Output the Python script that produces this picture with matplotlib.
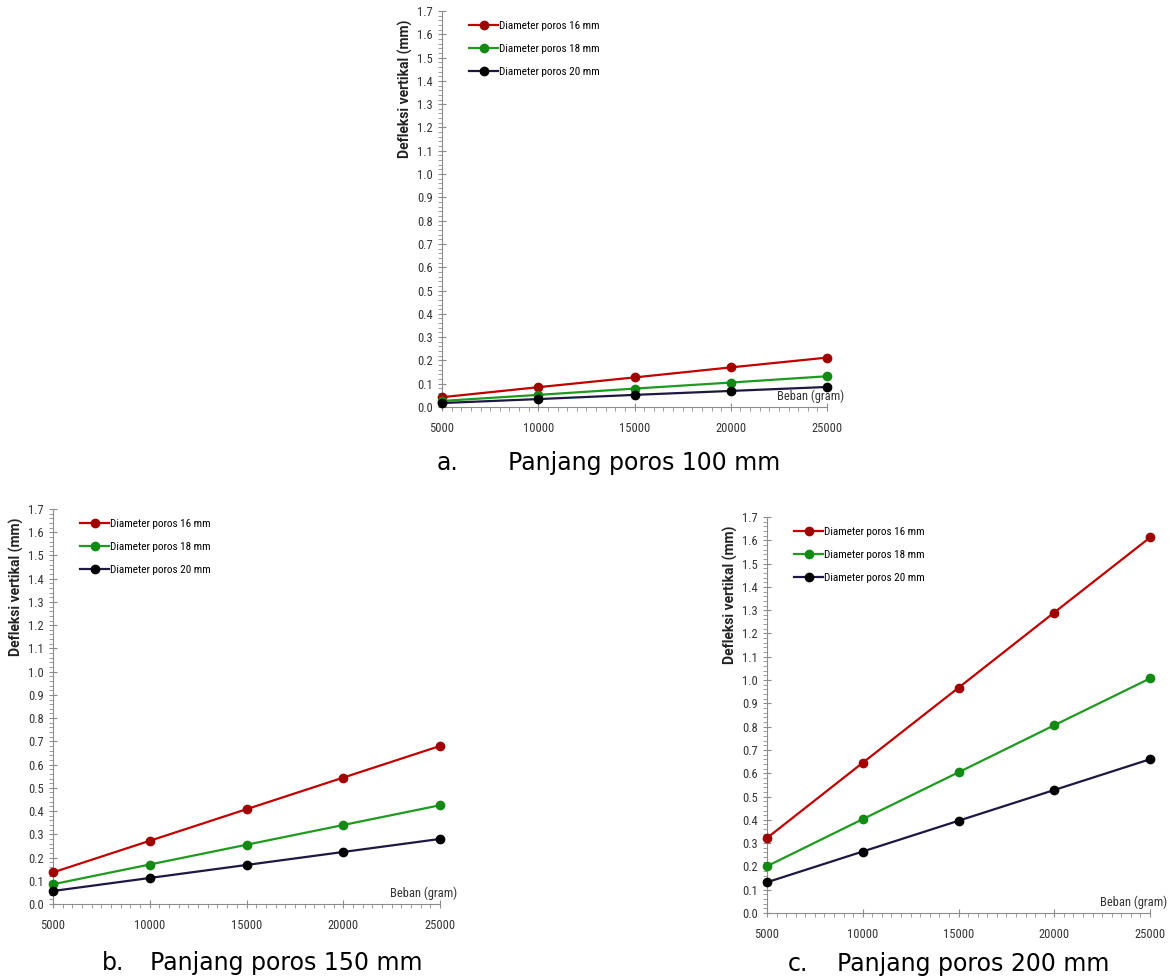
import numpy as np
import matplotlib.pyplot as plt
from matplotlib.ticker import MultipleLocator

beban = [5000, 10000, 15000, 20000, 25000]
labels = ['Diameter poros 16 mm', 'Diameter poros 18 mm', 'Diameter poros 20 mm']

# defleksi (mm) per panjang poros
d100_16 = [0.042, 0.085, 0.127, 0.170, 0.212]
d100_18 = [0.026, 0.052, 0.079, 0.105, 0.132]
d100_20 = [0.017, 0.034, 0.052, 0.069, 0.086]

d150_16 = [0.136, 0.272, 0.408, 0.544, 0.680]
d150_18 = [0.085, 0.170, 0.255, 0.340, 0.425]
d150_20 = [0.056, 0.112, 0.168, 0.224, 0.280]

d200_16 = [0.322, 0.645, 0.967, 1.290, 1.612]
d200_18 = [0.201, 0.403, 0.604, 0.806, 1.007]
d200_20 = [0.132, 0.264, 0.396, 0.528, 0.660]

letters = ['a.', 'b.', 'c.']
captions = ['Panjang poros 100 mm', 'Panjang poros 150 mm', 'Panjang poros 200 mm']

line_cols = ['#C00000', '#1E9A1E', '#1C1840']
mark_cols = ['#A00000', '#138A13', '#000000']

small = ['Liberation Sans Narrow', 'DejaVu Sans Condensed', 'Roboto Condensed',
         'Roboto', 'DejaVu Sans']
lab_font = ['Roboto', 'DejaVu Sans']

fig = plt.figure(figsize=(11.72, 9.8), dpi=100)
W, H = 1172.0, 980.0

def panel(rect, series, letter, caption, lx, cx, base):
    ax = fig.add_axes(rect)
    for ys, lc, mc, lab in zip(series, line_cols, mark_cols, labels):
        ax.plot(beban, ys, '-', color=lc, lw=1.6, marker='o', ms=6,
                mfc=mc, mec=mc, label=lab, clip_on=False, zorder=3)
    ax.set_xlim(5000, 25000)
    ax.set_ylim(0, 1.7)
    ax.xaxis.set_major_locator(MultipleLocator(5000))
    ax.xaxis.set_minor_locator(MultipleLocator(500))
    ax.yaxis.set_major_locator(MultipleLocator(0.1))
    ax.yaxis.set_minor_locator(MultipleLocator(0.02))
    ax.yaxis.set_major_formatter(plt.FuncFormatter(lambda v, p: '%.1f' % v))
    for s in ['top', 'right']:
        ax.spines[s].set_visible(False)
    for s in ['left', 'bottom']:
        ax.spines[s].set_color('#8C8C8C')
    ax.tick_params(which='major', direction='inout', length=6, color='#8C8C8C',
                   labelsize=9, labelcolor='#333333')
    ax.tick_params(which='minor', direction='out', length=3, color='#8C8C8C')
    ax.tick_params(axis='x', pad=8)
    for t in ax.get_xticklabels() + ax.get_yticklabels():
        t.set_family(small)
    ax.text(-0.095, 0.978, 'Defleksi vertikal (mm)', transform=ax.transAxes,
            rotation=90, ha='center', va='top', fontsize=10, fontweight='bold',
            family=lab_font, color='#222222')
    ax.text(1.045, 0.028, 'Beban (gram)', transform=ax.transAxes, ha='right',
            va='center', fontsize=9, family=small, color='#333333')
    ax.legend(loc='upper left', bbox_to_anchor=(0.045, 1.0), frameon=False,
              prop={'family': small, 'size': 8}, handlelength=2.6,
              labelspacing=1.15, handletextpad=0.1)
    fig.text(lx / W, 1 - base / H, letter, ha='left', va='baseline', fontsize=17)
    fig.text(cx / W, 1 - base / H, caption, ha='left', va='baseline', fontsize=17)
    return ax

panel([442/W, 1 - 407/H, 385/W, 396/H],
      [d100_16, d100_18, d100_20], letters[0], captions[0], 437, 508, 470)
panel([53/W, 1 - 904/H, 387/W, 395/H],
      [d150_16, d150_18, d150_20], letters[1], captions[1], 102, 150, 970)
panel([767/W, 1 - 913/H, 383/W, 396/H],
      [d200_16, d200_18, d200_20], letters[2], captions[2], 788, 837, 971)

fig.savefig('out.png', dpi=100)
